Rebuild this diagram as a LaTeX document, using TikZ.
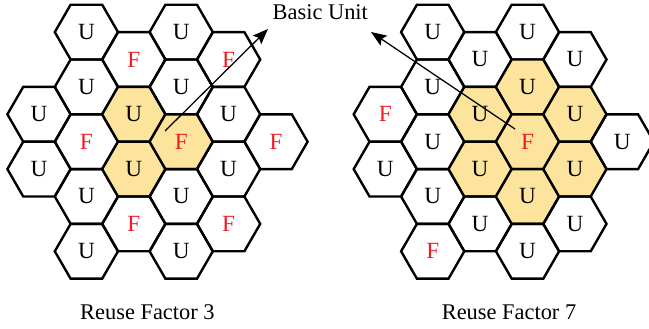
\documentclass[tikz,border=0pt]{standalone}
\usepackage{fontspec}
\setmainfont{Liberation Serif}
\usepackage{xcolor}
\usepackage{tikz}
\usetikzlibrary{shapes.geometric,arrows.meta}
\definecolor{basiccolor}{HTML}{FCE49C}
\definecolor{reusecolor}{HTML}{EE1C25}
\tikzset{
  cell/.style={draw, line width=1.7pt, regular polygon, regular polygon sides=6, minimum size=1.58cm, inner sep=0pt, font=\fontsize{0.58cm}{0.7cm}\selectfont},
  basic/.style={cell, fill=basiccolor},
  reuse/.style={text=reusecolor},
  caption/.style={anchor=base, font=\fontsize{0.56cm}{0.67cm}\selectfont},
  pointer/.style={line width=0.9pt, -{Stealth[length=11pt,width=8.5pt,inset=2pt]}}
}

\begin{document}
\begin{tikzpicture}[x=0.025cm, y=-0.025cm]%
\useasboundingbox (0,0) rectangle (649,328);%
% Reuse factor 3
\node[cell] (a1) at (39.0, 114.3) {U};%
\node[cell] (a2) at (39.0, 169.1) {U};%
\node[cell] (a3) at (86.4, 32.1) {U};%
\node[cell] (a4) at (86.4, 86.9) {U};%
\node[cell, reuse] (a5) at (86.4, 141.7) {F};%
\node[cell] (a6) at (86.4, 196.5) {U};%
\node[cell] (a7) at (86.4, 251.3) {U};%
\node[cell, reuse] (a8) at (133.8, 59.5) {F};%
\node[basic] (a9) at (133.8, 114.3) {U};%
\node[basic] (a10) at (133.8, 169.1) {U};%
\node[cell, reuse] (a11) at (133.8, 223.9) {F};%
\node[cell] (a12) at (181.2, 32.1) {U};%
\node[cell] (a13) at (181.2, 86.9) {U};%
\node[basic, reuse] (a14) at (181.2, 141.7) {F};%
\node[cell] (a15) at (181.2, 196.5) {U};%
\node[cell] (a16) at (181.2, 251.3) {U};%
\node[cell, reuse] (a17) at (228.6, 59.5) {F};%
\node[cell] (a18) at (228.6, 114.3) {U};%
\node[cell] (a19) at (228.6, 169.1) {U};%
\node[cell, reuse] (a20) at (228.6, 223.9) {F};%
\node[cell, reuse] (a21) at (276.0, 141.7) {F};%
% Reuse factor 7
\node[cell, reuse] (b1) at (385.3, 114.3) {F};%
\node[cell] (b2) at (385.3, 169.1) {U};%
\node[cell] (b3) at (432.7, 32.1) {U};%
\node[cell] (b4) at (432.7, 86.9) {U};%
\node[cell] (b5) at (432.7, 141.7) {U};%
\node[cell] (b6) at (432.7, 196.5) {U};%
\node[cell, reuse] (b7) at (432.7, 251.3) {F};%
\node[cell] (b8) at (480.1, 59.5) {U};%
\node[basic] (b9) at (480.1, 114.3) {U};%
\node[basic] (b10) at (480.1, 169.1) {U};%
\node[cell] (b11) at (480.1, 223.9) {U};%
\node[cell] (b12) at (527.5, 32.1) {U};%
\node[basic] (b13) at (527.5, 86.9) {U};%
\node[basic, reuse] (b14) at (527.5, 141.7) {F};%
\node[basic] (b15) at (527.5, 196.5) {U};%
\node[cell] (b16) at (527.5, 251.3) {U};%
\node[cell] (b17) at (574.9, 59.5) {U};%
\node[basic] (b18) at (574.9, 114.3) {U};%
\node[basic] (b19) at (574.9, 169.1) {U};%
\node[cell] (b20) at (574.9, 223.9) {U};%
\node[cell] (b21) at (622.3, 141.7) {U};%
% labels and pointers
\node[caption] (basicunit) at (320.3, 20.0) {Basic Unit};%
\node[caption] (factor3) at (147.4, 319.3) {Reuse Factor 3};%
\node[caption] (factor7) at (509.0, 319.3) {Reuse Factor 7};%
\coordinate (startl) at (165.0, 131.0);%
\coordinate (tipl) at (268.0, 29.0);%
\coordinate (startr) at (515.0, 129.0);%
\coordinate (tipr) at (371.0, 32.0);%
\draw[pointer] (startl) -- (tipl);%
\draw[pointer] (startr) -- (tipr);%
\end{tikzpicture}
\end{document}
